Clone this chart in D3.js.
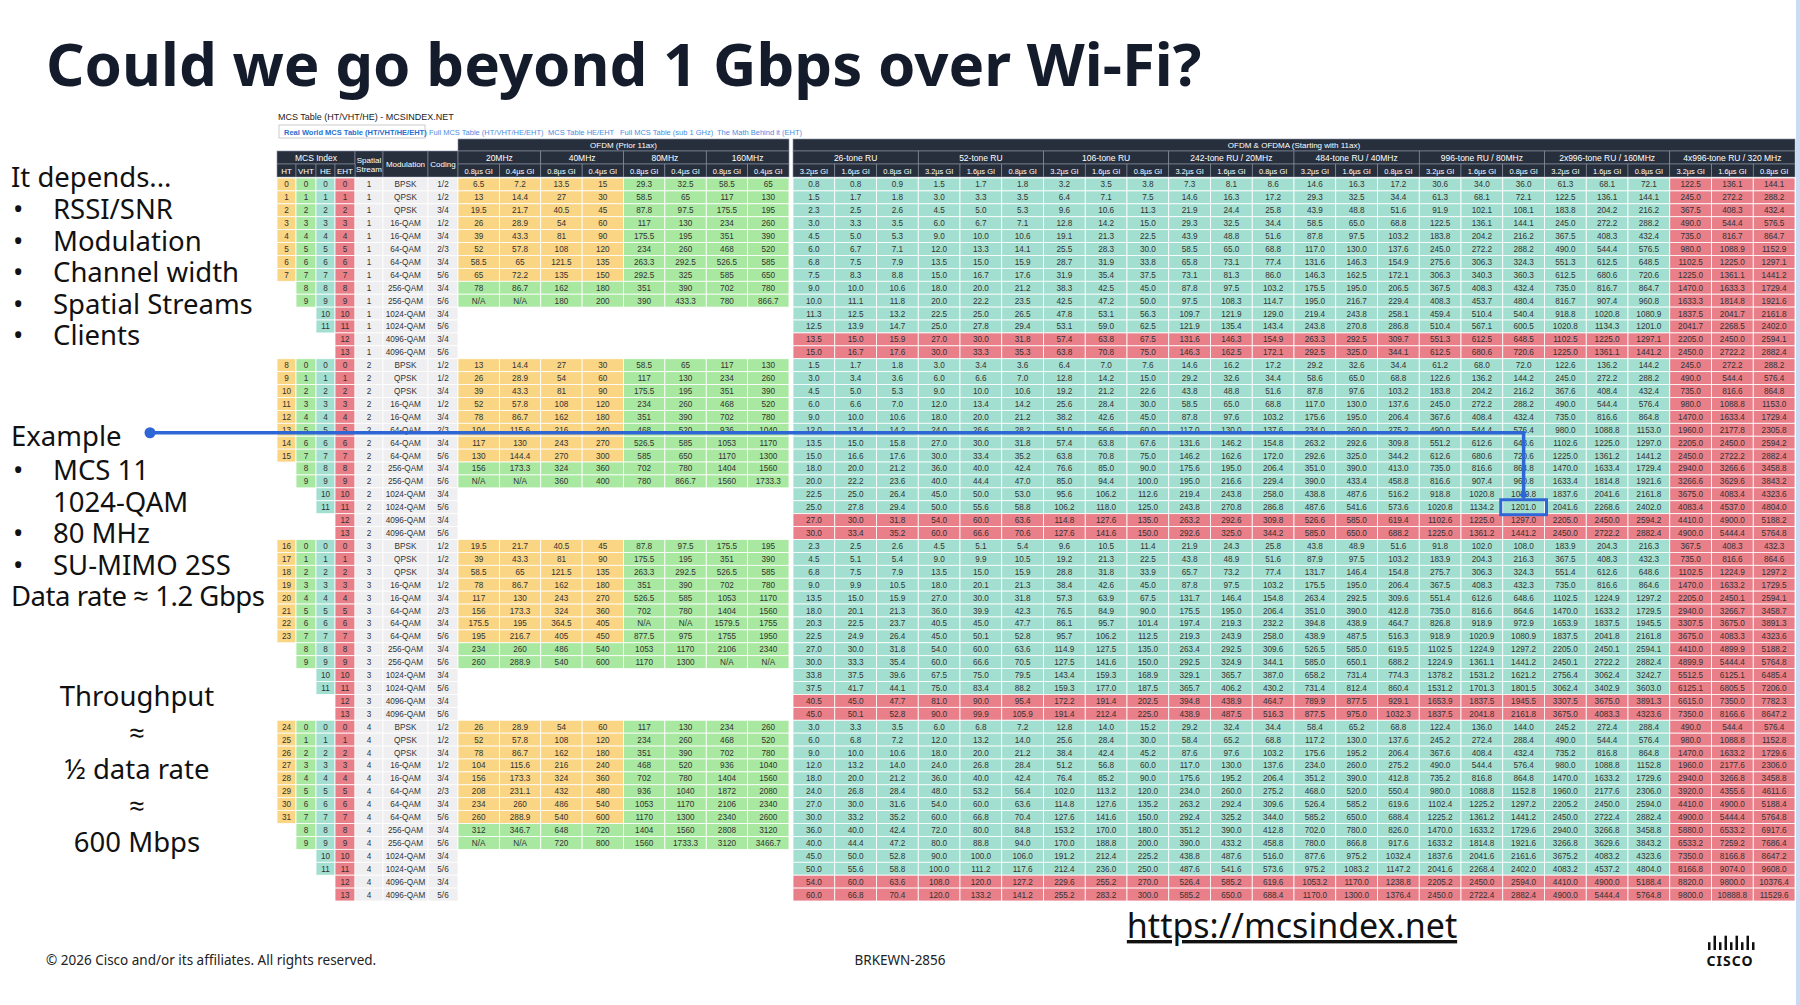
<!DOCTYPE html>
<html>
<head>
<meta charset="utf-8">
<script src="https://cdn.jsdelivr.net/npm/d3@7"></script>
<style>
body { margin: 0; background: #fff; }
svg { display: block; }
</style>
</head>
<body>
<script>
var W = 1800, H = 1005;
var svg = d3.select("body").append("svg").attr("width", W).attr("height", H);
var SANS = "'Liberation Sans', Arial, sans-serif";
var SLIDE = "'Noto Sans', 'Open Sans', sans-serif";

var C = { ht: "#f9d584", vht: "#a9e8a0", he: "#a3dfd0", eht: "#e97f89", grey: "#efeff1", dark: "#272f3d", blue: "#2f66d6" };

// legacy OFDM (prior 11ax): 20MHz .8/.4, 40MHz .8/.4, 80MHz .8/.4, 160MHz .8/.4 per NSS, MCS 0..9
var legacy = {
  1: [["6.5","7.2","13.5","15","29.3","32.5","58.5","65"],["13","14.4","27","30","58.5","65","117","130"],["19.5","21.7","40.5","45","87.8","97.5","175.5","195"],["26","28.9","54","60","117","130","234","260"],["39","43.3","81","90","175.5","195","351","390"],["52","57.8","108","120","234","260","468","520"],["58.5","65","121.5","135","263.3","292.5","526.5","585"],["65","72.2","135","150","292.5","325","585","650"],["78","86.7","162","180","351","390","702","780"],["N/A","N/A","180","200","390","433.3","780","866.7"]],
  2: [["13","14.4","27","30","58.5","65","117","130"],["26","28.9","54","60","117","130","234","260"],["39","43.3","81","90","175.5","195","351","390"],["52","57.8","108","120","234","260","468","520"],["78","86.7","162","180","351","390","702","780"],["104","115.6","216","240","468","520","936","1040"],["117","130","243","270","526.5","585","1053","1170"],["130","144.4","270","300","585","650","1170","1300"],["156","173.3","324","360","702","780","1404","1560"],["N/A","N/A","360","400","780","866.7","1560","1733.3"]],
  3: [["19.5","21.7","40.5","45","87.8","97.5","175.5","195"],["39","43.3","81","90","175.5","195","351","390"],["58.5","65","121.5","135","263.3","292.5","526.5","585"],["78","86.7","162","180","351","390","702","780"],["117","130","243","270","526.5","585","1053","1170"],["156","173.3","324","360","702","780","1404","1560"],["175.5","195","364.5","405","N/A","N/A","1579.5","1755"],["195","216.7","405","450","877.5","975","1755","1950"],["234","260","486","540","1053","1170","2106","2340"],["260","288.9","540","600","1170","1300","N/A","N/A"]],
  4: [["26","28.9","54","60","117","130","234","260"],["52","57.8","108","120","234","260","468","520"],["78","86.7","162","180","351","390","702","780"],["104","115.6","216","240","468","520","936","1040"],["156","173.3","324","360","702","780","1404","1560"],["208","231.1","432","480","936","1040","1872","2080"],["234","260","486","540","1053","1170","2106","2340"],["260","288.9","540","600","1170","1300","2340","2600"],["312","346.7","648","720","1404","1560","2808","3120"],["N/A","N/A","720","800","1560","1733.3","3120","3466.7"]]
};

// HE/EHT single stream rates, 3.2/1.6/0.8us GI per RU, MCS 0..13
var he1 = [
  [0.75,0.83,0.88, 1.5,1.7,1.8, 3.2,3.5,3.8, 7.3,8.1,8.6, 14.6,16.3,17.2, 30.6,34.0,36.0, 61.3,68.1,72.1, 122.5,136.1,144.1],
  [1.5,1.7,1.8, 3.0,3.3,3.5, 6.4,7.1,7.5, 14.6,16.3,17.2, 29.3,32.5,34.4, 61.3,68.1,72.1, 122.5,136.1,144.1, 245.0,272.2,288.2],
  [2.25,2.5,2.65, 4.5,5.0,5.3, 9.6,10.6,11.3, 21.9,24.4,25.8, 43.9,48.8,51.6, 91.9,102.1,108.1, 183.8,204.2,216.2, 367.5,408.3,432.4],
  [3.0,3.3,3.5, 6.0,6.7,7.1, 12.8,14.2,15.0, 29.25,32.5,34.4, 58.5,65.0,68.8, 122.5,136.1,144.1, 245.0,272.2,288.2, 490.0,544.4,576.5],
  [4.5,5.0,5.3, 9.0,10.0,10.6, 19.1,21.3,22.5, 43.9,48.8,51.6, 87.8,97.5,103.2, 183.8,204.2,216.2, 367.5,408.3,432.4, 735.0,816.7,864.7],
  [6.0,6.7,7.1, 12.0,13.3,14.1, 25.5,28.3,30.0, 58.5,65.0,68.8, 117.0,130.0,137.6, 245.0,272.2,288.2, 490.0,544.4,576.5, 980.0,1088.9,1152.9],
  [6.75,7.5,7.9, 13.5,15.0,15.9, 28.7,31.9,33.8, 65.8,73.1,77.4, 131.6,146.3,154.9, 275.6,306.3,324.3, 551.3,612.5,648.5, 1102.5,1225.0,1297.1],
  [7.5,8.3,8.8, 15.0,16.7,17.6, 31.9,35.4,37.5, 73.1,81.3,86.0, 146.3,162.5,172.1, 306.3,340.3,360.3, 612.5,680.6,720.6, 1225.0,1361.1,1441.2],
  [9.0,10.0,10.6, 18.0,20.0,21.2, 38.3,42.5,45.0, 87.8,97.5,103.2, 175.5,195.0,206.5, 367.5,408.3,432.4, 735.0,816.7,864.7, 1470.0,1633.3,1729.4],
  [10.0,11.1,11.8, 20.0,22.2,23.5, 42.5,47.2,50.0, 97.5,108.3,114.7, 195.0,216.7,229.4, 408.3,453.7,480.4, 816.7,907.4,960.8, 1633.3,1814.8,1921.6],
  [11.25,12.5,13.2, 22.5,25.0,26.5, 47.8,53.1,56.3, 109.7,121.9,129.0, 219.4,243.8,258.1, 459.4,510.4,540.4, 918.8,1020.8,1080.9, 1837.5,2041.7,2161.8],
  [12.5,13.9,14.7, 25.0,27.8,29.4, 53.1,59.0,62.5, 121.9,135.4,143.4, 243.8,270.8,286.8, 510.4,567.1,600.5, 1020.8,1134.3,1201.0, 2041.7,2268.5,2402.0],
  [13.5,15.0,15.9, 27.0,30.0,31.8, 57.4,63.8,67.5, 131.6,146.3,154.9, 263.3,292.5,309.7, 551.3,612.5,648.5, 1102.5,1225.0,1297.1, 2205.0,2450.0,2594.1],
  [15.0,16.7,17.6, 30.0,33.3,35.3, 63.8,70.8,75.0, 146.3,162.5,172.1, 292.5,325.0,344.1, 612.5,680.6,720.6, 1225.0,1361.1,1441.2, 2450.0,2722.2,2882.4]
];
var mods = ["BPSK","QPSK","QPSK","16-QAM","16-QAM","64-QAM","64-QAM","64-QAM","256-QAM","256-QAM","1024-QAM","1024-QAM","4096-QAM","4096-QAM"];
var codes = ["1/2","1/2","3/4","1/2","3/4","2/3","3/4","5/6","3/4","5/6","3/4","5/6","3/4","5/6"];

var rows = [];
[1,2,3,4].forEach(function(n) {
  d3.range(14).forEach(function(m) { rows.push({ nss: n, mcs: m }); });
});

// title
svg.append("text").attr("x", 46).attr("y", 86).attr("font-family", SLIDE).attr("font-weight", 700)
  .attr("font-size", 60).attr("fill", "#141c2c").text("Could we go beyond 1 Gbps over Wi-Fi?");

// right edge strip
svg.append("rect").attr("x", 1796).attr("y", 0).attr("width", 4).attr("height", H).attr("fill", "#c9dcf3");

// table frame
var y = d3.scaleBand().domain(d3.range(rows.length)).range([178, 901]);
var xl = d3.scaleBand().domain(d3.range(8)).range([458, 789]);
var xh = d3.scaleBand().domain(d3.range(24)).range([793, 1795]);
var left = [
  { k: "ht", x: 277, w: 19 }, { k: "vht", x: 296, w: 20 }, { k: "he", x: 316, w: 19 }, { k: "eht", x: 335, w: 20 },
  { k: "ss", x: 355, w: 28 }, { k: "mod", x: 383, w: 45 }, { k: "cod", x: 428, w: 30 }
];
var rh = y.bandwidth();
var T = svg.append("g").attr("font-family", SANS);

T.append("text").attr("x", 278).attr("y", 120).attr("font-size", 9).attr("fill", "#222").text("MCS Table (HT/VHT/HE) - MCSINDEX.NET");
var tabs = ["Real World MCS Table (HT/VHT/HE/EHT)", "Full MCS Table (HT/VHT/HE/EHT)", "MCS Table HE/EHT", "Full MCS Table (sub 1 GHz)", "The Math Behind it (EHT)"];
var tx = [284, 429, 548, 620, 717];
T.append("rect").attr("x", 279).attr("y", 125).attr("width", 146).attr("height", 13).attr("fill", "#fff").attr("stroke", "#ccc");
tabs.forEach(function(t, i) {
  T.append("text").attr("x", tx[i]).attr("y", 135).attr("font-size", 7.5).attr("font-weight", i === 0 ? 700 : 400)
    .attr("fill", i === 0 ? "#2a6fcf" : "#4a8ee0").text(t);
});

function hdr(x, y0, w, h, t, size) {
  T.append("rect").attr("x", x).attr("y", y0).attr("width", w).attr("height", h).attr("fill", C.dark).attr("stroke", "#8a93a3").attr("stroke-width", 0.6);
  if (!t) return;
  var lines = [].concat(t);
  lines.forEach(function(s, i) {
    T.append("text").attr("x", x + w / 2).attr("y", y0 + h / 2 + 3 + (i - (lines.length - 1) / 2) * 9)
      .attr("text-anchor", "middle").attr("font-size", size || 8).attr("fill", "#fff").text(s);
  });
}
hdr(458, 139, 331, 12, "OFDM (Prior 11ax)");
hdr(793, 139, 1002, 12, "OFDM & OFDMA (Starting with 11ax)");
hdr(277, 151, 78, 13, "MCS Index", 8.5);
hdr(355, 151, 28, 26, ["Spatial", "Stream"]);
hdr(383, 151, 45, 26, "Modulation");
hdr(428, 151, 30, 26, "Coding");
["HT", "VHT", "HE", "EHT"].forEach(function(t, i) { hdr(left[i].x, 164, left[i].w, 13, t); });
["20MHz", "40MHz", "80MHz", "160MHz"].forEach(function(t, i) {
  hdr(xl(i * 2), 151, xl.bandwidth() * 2, 13, t, 8.5);
  hdr(xl(i * 2), 164, xl.bandwidth(), 13, "0.8µs GI", 7.5);
  hdr(xl(i * 2 + 1), 164, xl.bandwidth(), 13, "0.4µs GI", 7.5);
});
["26-tone RU", "52-tone RU", "106-tone RU", "242-tone RU / 20MHz", "484-tone RU / 40MHz", "996-tone RU / 80MHz", "2x996-tone RU / 160MHz", "4x996-tone RU / 320 MHz"].forEach(function(t, i) {
  hdr(xh(i * 3), 151, xh.bandwidth() * 3, 13, t, 8.5);
  ["3.2µs GI", "1.6µs GI", "0.8µs GI"].forEach(function(g, j) { hdr(xh(i * 3 + j), 164, xh.bandwidth(), 13, g, 7.5); });
});

function cell(x, y0, w, fill, t) {
  T.append("rect").attr("x", x).attr("y", y0).attr("width", w).attr("height", rh).attr("fill", fill).attr("stroke", "#fff").attr("stroke-width", 0.8);
  if (t !== undefined && t !== null)
    T.append("text").attr("x", x + w / 2).attr("y", y0 + rh / 2 + 3).attr("text-anchor", "middle")
      .attr("font-size", 8.2).attr("fill", "#333").text(t);
}

rows.forEach(function(r, i) {
  var yy = y(i), m = r.mcs, n = r.nss;
  if (m <= 7) cell(left[0].x, yy, left[0].w, C.ht, m + 8 * (n - 1));
  if (m <= 9) cell(left[1].x, yy, left[1].w, C.vht, m);
  if (m <= 11) cell(left[2].x, yy, left[2].w, C.he, m);
  cell(left[3].x, yy, left[3].w, C.eht, m);
  cell(left[4].x, yy, left[4].w, C.grey, n);
  cell(left[5].x, yy, left[5].w, C.grey, mods[m]);
  cell(left[6].x, yy, left[6].w, C.grey, codes[m]);
  if (m <= 9) {
    legacy[n][m].forEach(function(v, j) {
      cell(xl(j), yy, xl.bandwidth(), (m <= 7 && j < 4) ? C.ht : C.vht, v);
    });
  }
  he1[m].forEach(function(v, j) {
    cell(xh(j), yy, xh.bandwidth(), (m >= 12 || j >= 21) ? C.eht : C.he, (v * n).toFixed(1));
  });
});

// example annotation
var ri = rows.findIndex(function(r) { return r.nss === 2 && r.mcs === 11; });
var lineY = y(19) + rh / 2 + 3;
var colX = xh(17) + xh.bandwidth() / 2;
svg.append("path").attr("d", "M150," + lineY + "H" + colX + "V" + (y(ri) - 4))
  .attr("fill", "none").attr("stroke", C.blue).attr("stroke-width", 3.5);
svg.append("path").attr("d", "M" + (colX - 5) + "," + (y(ri) - 7) + "L" + (colX + 5) + "," + (y(ri) - 7) + "L" + colX + "," + (y(ri) - 1) + "Z").attr("fill", C.blue);
svg.append("circle").attr("cx", 150).attr("cy", lineY).attr("r", 5.5).attr("fill", C.blue);
svg.append("rect").attr("x", xh(17) - 2).attr("y", y(ri) - 1).attr("width", xh.bandwidth() + 4).attr("height", rh + 2)
  .attr("fill", "none").attr("stroke", C.blue).attr("stroke-width", 3);

// left texts
var L = svg.append("g").attr("font-family", SLIDE).attr("fill", "#111").attr("font-size", 27.5);
L.append("text").attr("x", 11).attr("y", 187).text("It depends...");
["RSSI/SNR", "Modulation", "Channel width", "Spatial Streams", "Clients"].forEach(function(t, i) {
  var yy = 219 + i * 31.5;
  L.append("text").attr("x", 13).attr("y", yy).text("•");
  L.append("text").attr("x", 53).attr("y", yy).text(t);
});
L.append("text").attr("x", 11).attr("y", 446).text("Example");
[["MCS 11", true], ["1024-QAM", false], ["80 MHz", true], ["SU-MIMO 2SS", true]].forEach(function(t, i) {
  var yy = 480 + i * 31.5;
  if (t[1]) L.append("text").attr("x", 13).attr("y", yy).text("•");
  L.append("text").attr("x", 53).attr("y", yy).text(t[0]);
});
L.append("text").attr("x", 11).attr("y", 606).attr("textLength", 254).text("Data rate ≈ 1.2 Gbps");
["Throughput", "≈", "½ data rate", "≈", "600 Mbps"].forEach(function(t, i) {
  L.append("text").attr("x", 137).attr("y", 706 + i * 36.5).attr("text-anchor", "middle").text(t);
});

// footer
svg.append("text").attr("x", 1292).attr("y", 938).attr("text-anchor", "middle").attr("font-family", SLIDE)
  .attr("font-size", 34).attr("fill", "#111").attr("text-decoration", "underline").text("https://mcsindex.net");
svg.append("text").attr("x", 46).attr("y", 965).attr("font-family", SLIDE).attr("font-size", 13.5).attr("fill", "#222")
  .text("© 2026 Cisco and/or its affiliates. All rights reserved.");
svg.append("text").attr("x", 900).attr("y", 965).attr("text-anchor", "middle").attr("font-family", SLIDE).attr("font-size", 13.5).attr("fill", "#222")
  .text("BRKEWN-2856");
// cisco logo bars
var bars = [6, 11, 6, 11, 6, 11, 6, 11, 6];
svg.selectAll(".bar").data(bars).enter().append("rect")
  .attr("x", function(d, i) { return 1708 + i * 5.5; }).attr("y", function(d) { return 950 - d * 1.3; })
  .attr("width", 2.5).attr("height", function(d) { return d * 1.3; }).attr("fill", "#111");
svg.append("text").attr("x", 1730).attr("y", 966).attr("text-anchor", "middle").attr("font-family", SLIDE)
  .attr("font-weight", 700).attr("font-size", 14).attr("letter-spacing", 1).attr("fill", "#111").text("CISCO");
</script>
</body>
</html>
